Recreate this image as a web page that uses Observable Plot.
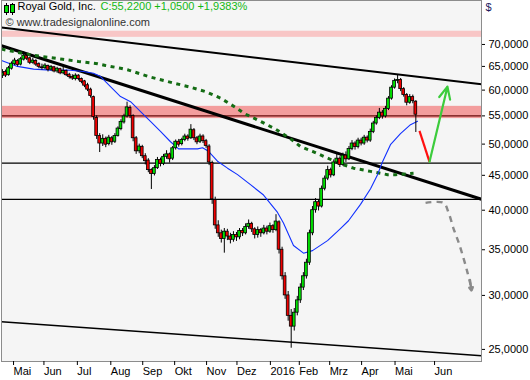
<!DOCTYPE html>
<html>
<head>
<meta charset="utf-8">
<script src="https://cdn.jsdelivr.net/npm/d3@7"></script>
<script src="https://cdn.jsdelivr.net/npm/@observablehq/plot@0.6"></script>
<style>
  html, body { margin: 0; padding: 0; background: #ffffff; }
  #chart { width: 530px; height: 380px; }
</style>
</head>
<body>
<div id="chart"></div>
<script>
// ---- Data (trading-day index, price in $) ----
const monthIdx = [0, 20, 42, 64, 85, 106, 127, 147, 169, 188, 208, 229, 251, 277];
const monthLabels = ["Mai", "Jun", "Jul", "Aug", "Sep", "Okt", "Nov", "Dez", "2016", "Feb", "Mrz", "Apr", "Mai", "Jun"];
const yTicks = [25, 30, 35, 40, 45, 50, 55, 60, 65, 70];
const xDomain = [-6.6, 309.2];
const yDomain = [24.0, 81.2];

// [day, open, high, low, close]
const candles = [
  [-6, 63.0, 64.3, 62.4, 63.5], [-4, 63.8, 64.2, 62.6, 63.0], [-2, 63.1, 65.0, 62.9, 64.6],
  [0, 64.5, 66.0, 64.2, 65.6], [2, 65.5, 66.8, 65.2, 66.3], [4, 66.2, 66.5, 64.9, 65.3],
  [6, 65.4, 67.0, 65.1, 66.6], [8, 66.5, 68.3, 66.2, 67.4], [10, 67.3, 67.6, 66.3, 66.7],
  [12, 66.8, 67.0, 65.4, 65.8], [14, 65.8, 66.8, 65.5, 66.3], [16, 66.2, 66.5, 65.0, 65.4],
  [18, 65.5, 65.8, 64.5, 64.9], [20, 64.8, 65.5, 64.2, 64.6], [22, 64.6, 65.6, 64.3, 65.2],
  [24, 65.1, 65.3, 63.8, 64.2], [26, 64.3, 65.2, 64.0, 64.9], [28, 64.8, 65.0, 63.6, 63.9],
  [30, 63.9, 64.8, 63.5, 64.5], [32, 64.4, 64.6, 63.2, 63.5], [34, 63.5, 65.3, 63.2, 64.0],
  [36, 64.0, 64.2, 62.8, 63.1], [38, 63.2, 63.5, 62.3, 62.7], [40, 62.7, 63.2, 62.0, 62.4],
  [42, 62.3, 63.4, 61.9, 63.0], [44, 63.0, 63.2, 61.9, 62.3], [46, 62.3, 62.5, 61.3, 61.7],
  [48, 61.8, 62.0, 60.5, 60.9], [50, 61.0, 61.4, 59.7, 60.1], [52, 60.1, 60.4, 58.4, 58.8],
  [54, 58.6, 58.8, 54.2, 54.8], [56, 54.6, 55.0, 50.8, 51.4], [58, 51.4, 51.8, 48.6, 50.1],
  [60, 50.1, 51.6, 49.6, 50.9], [62, 50.9, 51.2, 49.4, 49.9], [64, 50.0, 51.5, 49.7, 51.1],
  [66, 51.0, 51.3, 49.8, 50.3], [68, 50.4, 51.8, 50.1, 51.4], [70, 51.4, 53.0, 51.2, 52.7],
  [72, 52.6, 54.3, 52.3, 53.9], [74, 53.8, 55.3, 53.5, 54.9], [76, 54.9, 57.6, 54.6, 56.6],
  [78, 56.5, 56.9, 54.5, 55.0], [80, 55.0, 55.2, 50.4, 51.0], [82, 51.0, 51.3, 48.3, 48.8],
  [84, 48.8, 50.0, 48.4, 49.6], [86, 49.5, 49.8, 47.6, 48.0], [88, 48.0, 48.4, 46.6, 47.2],
  [90, 47.3, 47.6, 45.4, 45.8], [92, 45.8, 46.0, 42.9, 45.2], [94, 45.2, 46.5, 44.9, 46.1],
  [96, 46.1, 47.8, 45.9, 47.4], [98, 47.4, 47.7, 46.3, 46.8], [100, 46.8, 48.3, 46.5, 47.9],
  [102, 47.9, 48.9, 47.5, 48.3], [104, 48.3, 48.5, 46.9, 47.5], [106, 47.6, 49.6, 47.3, 49.3],
  [108, 49.3, 50.7, 49.0, 50.4], [110, 50.4, 50.8, 49.5, 49.9], [112, 50.0, 51.0, 49.7, 50.7],
  [114, 50.7, 51.7, 50.4, 51.3], [116, 51.3, 51.6, 50.5, 50.9], [118, 51.0, 53.4, 50.8, 52.5],
  [120, 52.4, 52.7, 50.6, 51.0], [122, 51.0, 51.3, 49.9, 50.3], [124, 50.4, 51.7, 50.1, 51.3],
  [126, 51.3, 51.6, 50.1, 50.5], [128, 50.5, 50.8, 49.3, 49.7], [130, 49.6, 49.9, 46.5, 47.0],
  [132, 46.9, 47.2, 40.8, 41.5], [134, 41.4, 41.8, 37.5, 38.0], [136, 38.0, 38.6, 36.5, 37.0],
  [138, 37.0, 37.4, 35.8, 36.3], [140, 36.3, 37.6, 34.6, 37.2], [142, 37.2, 37.5, 36.1, 36.6],
  [144, 36.6, 37.0, 35.7, 36.2], [146, 36.2, 37.2, 35.9, 36.8], [148, 36.8, 37.1, 36.0, 36.5],
  [150, 36.5, 37.6, 36.2, 37.3], [152, 37.3, 37.6, 36.6, 37.0], [154, 37.0, 38.2, 36.8, 37.8],
  [156, 37.8, 38.7, 37.5, 38.2], [158, 38.2, 38.4, 37.1, 37.5], [160, 37.5, 37.7, 36.3, 36.8],
  [162, 36.8, 37.8, 36.4, 37.4], [164, 37.4, 37.6, 36.5, 37.0], [166, 37.0, 38.0, 36.8, 37.6],
  [168, 37.6, 37.9, 36.8, 37.2], [170, 37.2, 38.3, 37.0, 37.9], [172, 37.9, 38.1, 37.0, 37.4],
  [174, 37.4, 39.4, 37.2, 38.5], [176, 38.4, 38.6, 34.5, 35.0], [178, 35.0, 35.3, 31.6, 32.0],
  [180, 32.0, 32.4, 29.6, 30.0], [182, 30.0, 30.4, 27.5, 28.0], [184, 28.0, 28.6, 25.1, 27.0],
  [186, 27.0, 28.7, 26.6, 28.3], [188, 28.3, 29.9, 28.0, 29.5], [190, 29.5, 31.2, 29.2, 30.8],
  [192, 30.8, 32.4, 30.5, 32.0], [194, 32.0, 33.9, 31.7, 33.5], [196, 33.5, 37.4, 33.2, 37.0],
  [198, 37.0, 40.5, 36.7, 40.0], [200, 40.0, 41.6, 39.6, 41.1], [202, 41.1, 41.4, 39.9, 40.5],
  [204, 40.5, 43.4, 40.3, 43.0], [206, 43.0, 44.9, 42.7, 44.5], [208, 44.5, 46.4, 44.2, 45.8],
  [210, 45.8, 46.1, 44.6, 45.0], [212, 45.0, 47.4, 44.8, 47.0], [214, 47.0, 48.3, 46.7, 47.6],
  [216, 47.6, 47.9, 46.2, 46.6], [218, 46.6, 48.5, 46.4, 48.1], [220, 48.1, 48.7, 47.0, 47.5],
  [222, 47.5, 49.6, 47.3, 49.2], [224, 49.2, 50.6, 48.9, 50.1], [226, 50.1, 50.4, 49.0, 49.5],
  [228, 49.5, 51.0, 49.2, 50.6], [230, 50.6, 51.0, 49.7, 50.1], [232, 50.1, 51.5, 49.8, 51.1],
  [234, 51.1, 51.4, 50.2, 50.6], [236, 50.6, 52.6, 50.3, 52.1], [238, 52.1, 54.0, 51.8, 53.6],
  [240, 53.6, 55.0, 53.3, 54.6], [242, 54.6, 56.4, 54.3, 55.6], [244, 55.6, 56.0, 54.4, 54.9],
  [246, 54.9, 56.8, 54.6, 56.3], [248, 56.3, 58.7, 56.0, 58.3], [250, 58.3, 60.9, 58.0, 60.5],
  [252, 60.5, 62.3, 60.2, 61.9], [254, 61.9, 63.2, 61.3, 62.1], [256, 62.1, 62.4, 59.7, 60.2],
  [258, 60.2, 60.5, 58.6, 59.0], [260, 59.0, 59.3, 56.9, 57.5], [262, 57.5, 59.1, 57.2, 58.6],
  [264, 58.6, 59.0, 57.3, 57.8], [266, 57.7, 57.9, 52.0, 55.22]
];

// moving averages [day, value]
const ma50 = [
  [-6.6, 66.3], [3.9, 65.0], [14.5, 64.4], [25.7, 64.2], [36.8, 64.2], [47.4, 63.9], [53.9, 63.5],
  [58.6, 62.8], [65.1, 60.7], [71.7, 58.7], [78.3, 57.7], [84.9, 55.8], [91.4, 54.0], [98, 52.2],
  [104.6, 50.4], [109.9, 49.2], [122.4, 49.2], [125.7, 49.4], [129.6, 48.8], [135.5, 47.2],
  [142.1, 46.1], [148.7, 45.1], [157.2, 43.6], [165.8, 42.1], [175, 39.7], [178.9, 38.3],
  [185.5, 35.5], [192.1, 34.6], [198, 34.9], [207.9, 36.1], [216.4, 37.6], [221.7, 38.6],
  [229.6, 40.8], [236.2, 43.0], [240.8, 45.1], [244.1, 47.1], [249.3, 49.9], [255.9, 51.8],
  [262.5, 53.4], [267.1, 54.0]
];
const ma200 = [
  [-6.6, 68.9], [0.7, 68.4], [10.5, 67.7], [22.4, 67.1], [33.6, 66.6], [44, 66.1], [56.6, 65.6],
  [61.8, 65.2], [71.7, 64.6], [77, 64.2], [91.4, 62.7], [106, 61.5], [116.4, 60.7], [127.6, 59.7],
  [137.5, 58.4], [147.4, 56.6], [153.3, 55.4], [163.8, 54.0], [173.7, 52.6], [183.6, 50.9],
  [190.1, 49.6], [198, 48.8], [207.9, 47.7], [216.4, 46.8], [225, 46.1], [236.2, 45.6],
  [247.4, 45.1], [252.6, 45.1], [264.5, 45.3]
];

// drawn analysis objects
const zones = [ {lo: 71.7, hi: 73.2, color: "#f8c6c6"}, {lo: 54.5, hi: 56.8, color: "#f39d9d"} ];
const levels = [46.9, 41.5];
const closeLevel = [55.0];
const trendLines = [
  {x1: -6.6, y1: 74.1, x2: 309.2, y2: 61.2, w: 2},
  {x1: -6.6, y1: 69.7, x2: 309.2, y2: 41.5, w: 3},
  {x1: -6.6, y1: 27.45, x2: 309.2, y2: 24.48, w: 1.5}
];
const redLeg = [{x1: 268.4, y1: 52.3, x2: 275, y2: 47.1}];
const greenLeg = [{x1: 275, y1: 47.1, x2: 286.8, y2: 60.7}];
const grayPath = [
  [272.4, 41.0], [284.2, 41.0], [287.5, 39.7], [290.8, 37.6], [294.1, 35.9],
  [297.4, 34.0], [300, 32.4], [302, 31.1]
];
const grayHead = [{x1: 301.6, y1: 31.6, x2: 302.6, y2: 30.5}];

const fmt = d => d.toFixed(4).replace(".", ",");
const labelOf = new Map(monthIdx.map((d, i) => [d, monthLabels[i]]));
const UP = "#00e000", DOWN = "#f00000";

const chart = Plot.plot({
  width: 530,
  height: 380,
  marginLeft: 1,
  marginRight: 49,
  marginTop: 0,
  marginBottom: 19,
  style: {fontFamily: "'Liberation Sans', Arial, sans-serif", fontSize: "11px", background: "#ffffff", color: "#000"},
  x: {type: "linear", domain: xDomain, axis: null},
  y: {type: "log", domain: yDomain, axis: null},
  marks: [
    Plot.frame({fill: "#f5f5f5", stroke: null}),
    Plot.rect(zones, {x1: () => xDomain[0], x2: () => xDomain[1], y1: "lo", y2: "hi", fill: "color"}),
    Plot.ruleY(closeLevel, {stroke: "#6a0c0c", strokeWidth: 1.2}),
    Plot.ruleY(levels, {stroke: "#000", strokeWidth: 1.2}),
    Plot.link(trendLines, {x1: "x1", y1: "y1", x2: "x2", y2: "y2", stroke: "#000", strokeWidth: "w"}),
    Plot.line(ma200, {x: d => d[0], y: d => d[1], stroke: "#146c14", strokeWidth: 3, strokeDasharray: "4,4.5", strokeLinecap: "butt"}),
    Plot.line(ma50, {x: d => d[0], y: d => d[1], stroke: "#1030ff", strokeWidth: 1.1}),
    Plot.ruleX(candles, {x: d => d[0], y1: d => d[3], y2: d => d[2], stroke: "#000", strokeWidth: 1, clip: true}),
    Plot.rect(candles, {
      x1: d => d[0] - 0.9, x2: d => d[0] + 0.9,
      y1: d => d[1], y2: d => d[4],
      fill: d => d[4] >= d[1] ? UP : DOWN,
      stroke: "#000", strokeWidth: 0.8, clip: true
    }),
    Plot.link(redLeg, {x1: "x1", y1: "y1", x2: "x2", y2: "y2", stroke: "#ff1010", strokeWidth: 2.2}),
    Plot.arrow(greenLeg, {x1: "x1", y1: "y1", x2: "x2", y2: "y2", stroke: "#3ccc3c", strokeWidth: 2.2, headLength: 9, headAngle: 50}),
    Plot.line(grayPath, {x: d => d[0], y: d => d[1], stroke: "#8a8a8a", strokeWidth: 2.4, strokeDasharray: "6,5", strokeLinecap: "butt", curve: "catmull-rom"}),
    Plot.arrow(grayHead, {x1: "x1", y1: "y1", x2: "x2", y2: "y2", stroke: "#8a8a8a", strokeWidth: 2.4, headLength: 7, headAngle: 60}),
    Plot.frame({stroke: "#8c8c8c", strokeWidth: 1}),
    Plot.axisX(monthIdx, {anchor: "bottom", tickSize: 4, tickPadding: 2, tickFormat: d => labelOf.get(d), textAnchor: "start", dx: 2, fontSize: 11, stroke: "#000"}),
    Plot.axisY(yTicks, {anchor: "right", tickSize: 3, tickPadding: 4, tickFormat: fmt, fontSize: 11, stroke: "#000"}),
    Plot.text(["$"], {text: d => d, frameAnchor: "top-right", textAnchor: "start", lineAnchor: "top", dx: 4, dy: 3, fontSize: 11, fill: "#1a1a60"}),
    Plot.text(["Royal Gold, Inc."], {text: d => d, frameAnchor: "top-left", textAnchor: "start", lineAnchor: "top", dx: 16, dy: 2, fontSize: 11, fill: "#000"}),
    Plot.text(["C:55,2200 +1,0500 +1,9383%"], {text: d => d, frameAnchor: "top-left", textAnchor: "start", lineAnchor: "top", dx: 99, dy: 2, fontSize: 11, fill: "#14b814"}),
    Plot.text(["© www.tradesignalonline.com"], {text: d => d, frameAnchor: "top-left", textAnchor: "start", lineAnchor: "top", dx: 4, dy: 18, fontSize: 11, fill: "#333"})
  ]
});

// small candlestick icon beside the title
const icon = d3.select(chart).append("g").attr("stroke", "#000").attr("stroke-width", 1);
icon.append("line").attr("x1", 6.5).attr("x2", 6.5).attr("y1", 3).attr("y2", 15);
icon.append("rect").attr("x", 4.5).attr("y", 5.5).attr("width", 4).attr("height", 7).attr("fill", UP);
icon.append("line").attr("x1", 12.5).attr("x2", 12.5).attr("y1", 3).attr("y2", 15);
icon.append("rect").attr("x", 10.5).attr("y", 4.5).attr("width", 4).attr("height", 8).attr("fill", UP);

document.getElementById("chart").appendChild(chart);
</script>
</body>
</html>
